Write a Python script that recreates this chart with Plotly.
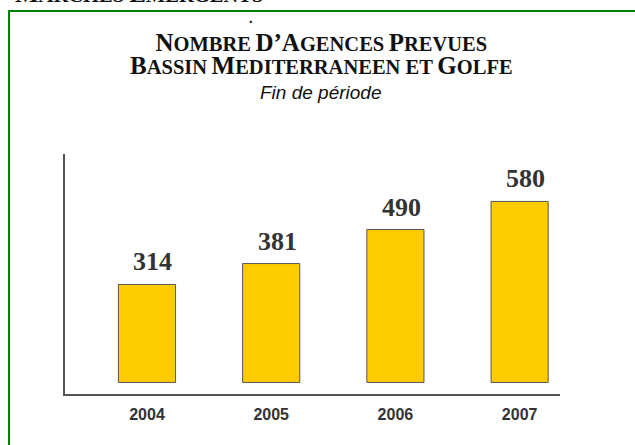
import plotly.graph_objects as go

years = ["2004", "2005", "2006", "2007"]
agences = [314, 381, 490, 580]

SERIF = "Liberation Serif"
SANS = "Liberation Sans"

L, R, T, B = 65, 75, 154, 51
W, H = 635, 445
PW, PH = W - L - R, H - T - B

def px(x):
    return (x - L) / PW

def py(y):
    return (H - B - y) / PH

BIG, SMALL = 25, 20.5
def sc(first, rest):
    return "<span style='font-size:%spx'>%s</span><span style='font-size:%spx'>%s</span>" % (BIG, first, SMALL, rest)

fig = go.Figure()
fig.add_trace(go.Bar(
    x=years, y=agences, width=0.46,
    marker=dict(color="#FFCC00", line=dict(color="#555555", width=1)),
    hoverinfo="skip",
))

for i, v in enumerate(agences):
    fig.add_annotation(x=i, y=v, xref="x", yref="y", text="<b>%d</b>" % v, showarrow=False,
                       xanchor="center", yanchor="bottom",
                       xshift=6, yshift=6, font=dict(family=SERIF, size=26, color="#333333"))

title1 = sc("N", "OMBRE") + " " + sc("D’A", "GENCES") + " " + sc("P", "REVUES")
title2 = sc("B", "ASSIN") + " " + sc("M", "EDITERRANEEN ET") + " " + sc("G", "OLFE")
top = sc("M", "ARCHES") + " " + sc("E", "MERGENTS")

fig.add_annotation(xref="paper", yref="paper", x=px(321), y=py(54), text="<b>" + title1 + "<br>" + title2 + "</b>",
                   showarrow=False, xanchor="center", yanchor="middle", align="center",
                   font=dict(family=SERIF, size=18, color="#111111"))
fig.add_annotation(xref="paper", yref="paper", x=px(320), y=py(92), text="<i>Fin de période</i>",
                   showarrow=False, xanchor="center", yanchor="middle",
                   font=dict(family=SANS, size=19, color="#111111"))
fig.add_annotation(xref="paper", yref="paper", x=px(13), y=py(-7), text="<b>" + top + "</b>",
                   showarrow=False, xanchor="left", yanchor="middle",
                   font=dict(family=SERIF, size=20.5, color="#111111"))
fig.add_annotation(xref="paper", yref="paper", x=px(251), y=py(18), text="<b>.</b>",
                   showarrow=False, xanchor="center", yanchor="middle",
                   font=dict(family=SERIF, size=14, color="#111111"))

fig.add_shape(type="rect", xref="paper", yref="paper",
              x0=px(9), x1=px(660), y0=py(11), y1=py(470),
              line=dict(color="#008000", width=2), layer="below")

fig.update_layout(
    width=W, height=H,
    margin=dict(l=L, r=R, t=T, b=B, pad=0),
    paper_bgcolor="white", plot_bgcolor="white",
    showlegend=False,
    xaxis=dict(type="category", range=[-0.66, 3.325], showgrid=False, zeroline=False,
               showline=True, linecolor="#555555", linewidth=1.5,
               ticks="outside", ticklen=5, tickcolor="rgba(0,0,0,0)",
               tickfont=dict(family=SANS, size=16, color="#333333"),
               tickprefix="<b>", ticksuffix="</b>"),
    yaxis=dict(range=[-37, 732], showgrid=False, zeroline=False, showticklabels=False,
               showline=True, linecolor="#555555", linewidth=1.5, ticks=""),
)

fig.write_html("out.html", config={"displayModeBar": False},
               post_script="document.body.style.margin='0';")
